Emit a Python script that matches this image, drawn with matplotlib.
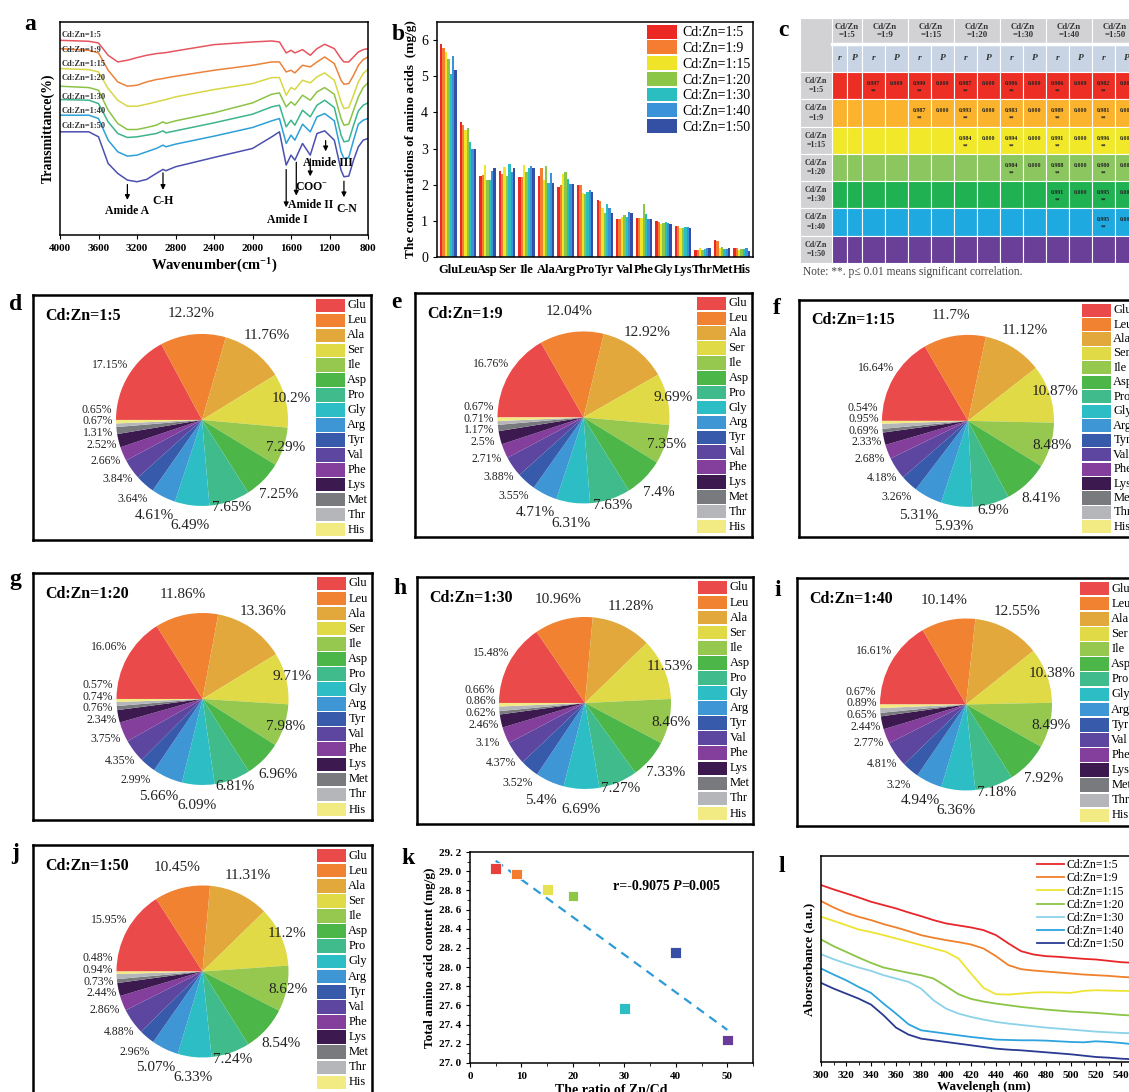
import matplotlib
matplotlib.use("Agg")
import matplotlib.pyplot as plt
import numpy as np
from matplotlib.patches import Rectangle

plt.rcParams['font.family'] = 'Liberation Serif'
plt.rcParams['mathtext.fontset'] = 'custom'
plt.rcParams['mathtext.rm'] = 'Liberation Serif'
plt.rcParams['mathtext.bf'] = 'Liberation Serif:bold'
plt.rcParams['mathtext.it'] = 'Liberation Serif:italic'

# ---------------- data ----------------
RATIOS = ['1:5', '1:9', '1:15', '1:20', '1:30', '1:40', '1:50']

# a: FTIR spectra (relative transmittance, a.u.)
FTIR_WN = [4000, 3700, 3600, 3500, 3400, 3300, 3200, 3100, 3000, 2930, 2900, 2800, 2400, 2000,
           1800, 1720, 1650, 1600, 1560, 1480, 1400, 1330, 1250, 1150, 1080, 1050, 1000, 950, 900, 850, 800]
ftir_1_5 = [580, 577, 572, 535, 515, 520, 528, 535, 540, 542, 543, 548, 567, 575, 578, 575, 542, 550, 542, 552,
            535, 555, 568, 555, 525, 515, 515, 530, 545, 552, 555]
ftir_1_9 = [555, 550, 542, 490, 455, 442, 445, 455, 462, 465, 467, 472, 490, 505, 515, 515, 485, 490, 482, 505,
            500, 515, 530, 510, 460, 448, 450, 475, 505, 522, 530]
ftir_1_15 = [495, 492, 485, 435, 400, 382, 382, 388, 395, 400, 402, 410, 432, 450, 468, 468, 415, 438, 432, 460,
             452, 470, 482, 460, 395, 375, 378, 415, 455, 480, 493]
ftir_1_20 = [442, 438, 430, 370, 330, 312, 312, 318, 325, 335, 330, 338, 362, 392, 418, 422, 380, 395, 385, 415,
             400, 425, 438, 418, 345, 325, 328, 370, 410, 438, 452]
ftir_1_30 = [402, 400, 390, 335, 300, 288, 290, 295, 300, 308, 302, 308, 332, 358, 380, 385, 320, 340, 325, 370,
             350, 385, 400, 378, 295, 275, 278, 325, 368, 385, 392]
ftir_1_40 = [355, 355, 345, 280, 245, 232, 235, 245, 255, 265, 260, 268, 292, 318, 338, 345, 270, 295, 280, 328,
             305, 350, 360, 338, 245, 225, 228, 280, 328, 340, 345]
ftir_1_50 = [305, 305, 290, 210, 180, 160, 155, 162, 180, 192, 188, 200, 228, 255, 290, 305, 205, 235, 220, 270,
             235, 300, 308, 280, 190, 170, 172, 220, 260, 280, 285]
FTIR = [ftir_1_5, ftir_1_9, ftir_1_15, ftir_1_20, ftir_1_30, ftir_1_40, ftir_1_50]

# b: amino acid concentrations (mg/g)
BAR_AA = ['Glu', 'Leu', 'Asp', 'Ser', 'Ile', 'Ala', 'Arg', 'Pro', 'Tyr', 'Val', 'Phe', 'Gly', 'Lys', 'Thr', 'Met', 'His']
conc_1_5 = [5.90, 3.73, 2.23, 2.39, 2.21, 2.24, 1.94, 2.00, 1.59, 1.04, 1.07, 1.00, 0.87, 0.18, 0.48, 0.24]
conc_1_9 = [5.78, 3.65, 2.26, 2.30, 2.21, 2.47, 1.98, 2.00, 1.55, 1.04, 1.08, 0.98, 0.86, 0.19, 0.44, 0.24]
conc_1_15 = [5.68, 3.52, 2.55, 2.49, 2.55, 2.12, 2.30, 1.77, 1.36, 1.12, 1.07, 0.92, 0.80, 0.25, 0.25, 0.19]
conc_1_20 = [5.47, 3.57, 2.12, 2.24, 2.35, 2.51, 2.36, 1.73, 1.22, 1.15, 1.47, 0.95, 0.80, 0.19, 0.27, 0.21]
conc_1_30 = [5.07, 3.17, 2.13, 2.58, 2.45, 2.04, 2.15, 1.81, 1.47, 1.10, 1.18, 0.97, 0.82, 0.22, 0.22, 0.22]
conc_1_40 = [5.57, 2.99, 2.37, 2.36, 2.51, 2.33, 2.03, 1.84, 1.36, 1.24, 1.06, 0.95, 0.83, 0.24, 0.23, 0.24]
conc_1_50 = [5.17, 2.99, 2.47, 2.47, 2.47, 2.04, 2.01, 1.79, 1.22, 1.22, 1.06, 0.92, 0.81, 0.24, 0.24, 0.17]
CONC = [conc_1_5, conc_1_9, conc_1_15, conc_1_20, conc_1_30, conc_1_40, conc_1_50]

# c: correlation table (upper triangle)
corr_r = [[0.997, 0.990, 0.987, 0.986, 0.986, 0.982],
          [0.987, 0.993, 0.983, 0.989, 0.981],
          [0.984, 0.994, 0.991, 0.996],
          [0.984, 0.988, 0.980],
          [0.991, 0.995],
          [0.995],
          []]
corr_p = [[0.000] * len(row) for row in corr_r]

# d-j: amino acid composition (%)
PIE_AA = ['Glu', 'Leu', 'Ala', 'Ser', 'Ile', 'Asp', 'Pro', 'Gly', 'Arg', 'Tyr', 'Val', 'Phe', 'Lys', 'Met', 'Thr', 'His']
pct_1_5 = [17.15, 12.32, 11.76, 10.2, 7.29, 7.25, 7.65, 6.49, 4.61, 3.64, 3.84, 2.66, 2.52, 1.31, 0.67, 0.65]
pct_1_9 = [16.76, 12.04, 12.92, 9.69, 7.35, 7.4, 7.63, 6.31, 4.71, 3.55, 3.88, 2.71, 2.5, 1.17, 0.71, 0.67]
pct_1_15 = [16.64, 11.7, 11.12, 10.87, 8.48, 8.41, 6.9, 5.93, 5.31, 3.26, 4.18, 2.68, 2.33, 0.69, 0.95, 0.54]
pct_1_20 = [16.06, 11.86, 13.36, 9.71, 7.98, 6.96, 6.81, 6.09, 5.66, 2.99, 4.35, 3.75, 2.34, 0.76, 0.74, 0.57]
pct_1_30 = [15.48, 10.96, 11.28, 11.53, 8.46, 7.33, 7.27, 6.69, 5.4, 3.52, 4.37, 3.1, 2.46, 0.62, 0.86, 0.66]
pct_1_40 = [16.61, 10.14, 12.55, 10.38, 8.49, 7.92, 7.18, 6.36, 4.94, 3.2, 4.81, 2.77, 2.44, 0.65, 0.89, 0.67]
pct_1_50 = [15.95, 10.45, 11.31, 11.2, 8.62, 8.54, 7.24, 6.33, 5.07, 2.96, 4.88, 2.86, 2.44, 0.73, 0.94, 0.48]
PCT = [pct_1_5, pct_1_9, pct_1_15, pct_1_20, pct_1_30, pct_1_40, pct_1_50]

# k: total amino acid content
ZN_CD = [5, 9, 15, 20, 30, 40, 50]
TOTAL_AA = [29.03, 28.97, 28.81, 28.74, 27.57, 28.15, 27.24]

# l: UV-vis absorbance (a.u.)
UV_WL = [300, 310, 320, 330, 340, 350, 360, 370, 380, 390, 400, 410, 420, 430, 440, 450, 460, 470,
         480, 490, 500, 510, 520, 530, 540, 550]
uv_1_5 = [565, 552, 540, 528, 515, 505, 495, 483, 472, 460, 450, 444, 438, 430, 415, 390, 367, 357,
          352, 350, 347, 344, 342, 338, 334, 332]
uv_1_9 = [517, 498, 482, 470, 460, 448, 438, 427, 415, 407, 400, 394, 387, 375, 352, 325, 313, 309,
          306, 303, 300, 297, 295, 293, 290, 288]
uv_1_15 = [470, 458, 445, 432, 424, 415, 405, 395, 385, 375, 365, 345, 300, 257, 238, 237, 240, 243,
           244, 243, 242, 248, 250, 249, 248, 248]
uv_1_20 = [402, 382, 365, 348, 332, 318, 310, 302, 295, 285, 262, 238, 224, 216, 210, 205, 200, 196,
           192, 189, 186, 184, 182, 179, 176, 174]
uv_1_30 = [358, 343, 330, 318, 308, 295, 285, 275, 255, 220, 195, 180, 170, 162, 155, 150, 146, 142,
           138, 135, 132, 129, 126, 124, 122, 121]
uv_1_40 = [315, 297, 280, 260, 242, 210, 180, 148, 130, 125, 120, 115, 110, 106, 102, 101, 100, 100,
           99, 97, 95, 94, 97, 95, 92, 88]
uv_1_50 = [272, 255, 240, 225, 207, 175, 138, 117, 105, 100, 95, 90, 85, 80, 75, 72, 70, 67,
           64, 61, 58, 54, 50, 48, 45, 43]
UV = [uv_1_5, uv_1_9, uv_1_15, uv_1_20, uv_1_30, uv_1_40, uv_1_50]

# ---------------- styles ----------------
FTIR_COLORS = ['#E6555F', '#EB823C', '#D7D746', '#8CC346', '#3CB48C', '#2DA0D7', '#4B50AF']
FTIR_LABEL_Y = [595, 552, 508, 467, 410, 367, 322]
BAR_COLORS = ['#EC2824', '#F57D32', '#F0E428', '#8CC646', '#2ABEC0', '#3A92D8', '#3450A4']
ROW_COLORS = ['#EC2E24', '#FBB22C', '#F0E828', '#8CC65F', '#20B252', '#1EAAE1', '#6A3F98']
PIE_COLORS = ['#EA4A4A', '#F08232', '#E2A83C', '#E0DA46', '#96C850', '#4CB648', '#40BC8C', '#2CBEC4',
              '#3E96D4', '#385AAA', '#5C46A0', '#843E9C', '#3C1A50', '#787A7E', '#B4B6BA', '#F2EA82']
LABEL_R = [1.24, 1.24, 1.24, 1.07, 1.02, 1.24, 1.08, 1.24, 1.24, 1.22, 1.2, 1.22, 1.2, 1.22, 1.22, 1.22]
K_COLORS = ['#E8413C', '#F27D2D', '#E6E150', '#8CC846', '#2DBEC4', '#3750A5', '#693C9B']
UV_COLORS = ['#E8262A', '#F0802C', '#EEE434', '#8CC446', '#8CD2E8', '#2EA4DE', '#2A3A92']

FIG_W, FIG_H = 1129, 1092
fig = plt.figure(figsize=(FIG_W / 100, FIG_H / 100), dpi=100)


def px_axes(x0, y0, x1, y1):
    return fig.add_axes([x0 / FIG_W, 1 - y1 / FIG_H, (x1 - x0) / FIG_W, (y1 - y0) / FIG_H])


def panel_letter(x, y, s):
    fig.text(x / FIG_W, 1 - y / FIG_H, s, ha='center', va='center', fontsize=17, fontweight='bold')


# ---------------- a: FTIR ----------------
ax = px_axes(60, 22, 368, 235)
for vals, c, r, ly in zip(FTIR, FTIR_COLORS, RATIOS, FTIR_LABEL_Y):
    ax.plot(FTIR_WN, vals, color=c, lw=1.1)
    ax.text(3985, ly, 'Cd:Zn=' + r, fontsize=6, fontweight='bold', color='#333333', va='center')
ax.set_xlim(4000, 800)
ax.set_ylim(-5, 635)
ax.set_yticks([])
ax.set_xticks(range(4000, 799, -400))
for t in ax.get_xticklabels():
    t.set_fontweight('bold')
ax.tick_params(axis='x', labelsize=8, length=3)
ax.set_xlabel(r'Wavenumber(cm$^{\mathbf{-1}}$)', fontsize=10.5, fontweight='bold', labelpad=3)
ax.set_ylabel('Transmittance(%)', fontsize=10, fontweight='bold', labelpad=4)
for s in ax.spines.values():
    s.set_linewidth(1.1)

peaks = [('Amide A', 3300, 155, 92, 3300, 66),
         ('C-H', 2930, 190, 122, 2930, 96),
         ('Amide I', 1650, 200, 70, 1640, 40),
         ('Amide II', 1545, 222, 105, 1400, 84),
         ('COO$^{-}$', 1400, 232, 163, 1385, 138),
         ('Amide III', 1240, 287, 238, 1212, 210),
         ('C-N', 1050, 165, 100, 1025, 72)]
for lab, xw, y0, y1, xt, yt in peaks:
    ax.annotate('', xy=(xw, y1), xytext=(xw, y0),
                arrowprops=dict(arrowstyle='-|>', color='black', lw=0.9, mutation_scale=7))
    ax.text(xt, yt, lab, ha='center', va='center', fontsize=8.5, fontweight='bold')

panel_letter(30, 25, 'a')

# ---------------- b: bars ----------------
bx = px_axes(437, 22, 753, 257)
x = np.arange(len(BAR_AA))
w = 0.12
for k, (vals, c) in enumerate(zip(CONC, BAR_COLORS)):
    bx.bar(x + (k - 3) * w, vals, w, color=c, linewidth=0, label='Cd:Zn=' + RATIOS[k])
bx.set_xlim(-0.58, 15.58)
bx.set_ylim(0, 6.5)
bx.set_yticks(range(0, 7))
bx.set_xticks(x)
bx.set_xticklabels(BAR_AA, fontweight='bold', fontsize=9)
bx.tick_params(axis='x', length=0, pad=5)
bx.tick_params(axis='y', labelsize=10, length=3)
bx.set_ylabel('The concentrations of amino acids  (mg/g)', fontsize=9.5, fontweight='bold', labelpad=3)
for s in bx.spines.values():
    s.set_linewidth(1.1)
bx.legend(loc='upper right', bbox_to_anchor=(1.0, 1.0), frameon=False, fontsize=10,
          handlelength=2.15, handleheight=1.15, labelspacing=0.08, handletextpad=0.35,
          borderaxespad=0.1, borderpad=0.1)
panel_letter(398, 35, 'b')

# ---------------- c: table ----------------
tx = px_axes(800, 18, 1138, 263)
col_w = [32, 15, 15] + [23] * 12
row_h = [26, 28] + [27.3] * 7
xe = np.concatenate([[0], np.cumsum(col_w)])
ye = np.concatenate([[0], np.cumsum(row_h)])
tx.set_xlim(0, xe[-1])
tx.set_ylim(ye[-1], 0)
tx.axis('off')


def cell(c0, c1, r0, r1, color):
    tx.add_patch(Rectangle((xe[c0], ye[r0]), xe[c1] - xe[c0], ye[r1] - ye[r0],
                           facecolor=color, edgecolor='white', lw=0.8))


cell(0, 1, 0, 2, '#D2D2D4')
for j, r in enumerate(RATIOS):
    c0, c1 = 1 + 2 * j, 3 + 2 * j
    cell(c0, c1, 0, 1, '#D2D2D4')
    tx.text((xe[c0] + xe[c1]) / 2, (ye[0] + ye[1]) / 2, 'Cd/Zn\n=' + r, ha='center', va='center',
            fontsize=6.3, fontweight='bold', color='#333333', linespacing=1.15)
    for m, sym in enumerate(['r', 'P']):
        cc = c0 + m
        cell(cc, cc + 1, 1, 2, '#C8D4E4')
        tx.text((xe[cc] + xe[cc + 1]) / 2, (ye[1] + ye[2]) / 2, sym, ha='center', va='center',
                fontsize=6.8, fontweight='bold', fontstyle='italic', color='#333333')
tx.plot([xe[1], xe[-1]], [ye[1], ye[1]], color='white', lw=2.5)
for i, r in enumerate(RATIOS):
    r0, r1 = 2 + i, 3 + i
    cell(0, 1, r0, r1, '#D2D2D4')
    tx.text((xe[0] + xe[1]) / 2, (ye[r0] + ye[r1]) / 2, 'Cd/Zn\n=' + r, ha='center', va='center',
            fontsize=5.8, fontweight='bold', color='#333333', linespacing=1.2)
    for cc in range(1, len(col_w)):
        cell(cc, cc + 1, r0, r1, ROW_COLORS[i])
    for n, (rv, pv) in enumerate(zip(corr_r[i], corr_p[i])):
        j = i + 1 + n
        cr, cp = 1 + 2 * j, 2 + 2 * j
        ymid = ye[r0] + 0.42 * (ye[r1] - ye[r0])
        tx.text((xe[cr] + xe[cr + 1]) / 2, ymid, f'{rv:.3f}', ha='center', va='center',
                fontsize=4.2, fontweight='bold', color='#222222')
        tx.text((xe[cr] + xe[cr + 1]) / 2, ye[r0] + 0.7 * (ye[r1] - ye[r0]), '**', ha='center',
                va='center', fontsize=4, fontweight='bold', color='#222222')
        tx.text((xe[cp] + xe[cp + 1]) / 2, ymid, f'{pv:.3f}', ha='center', va='center',
                fontsize=4.2, fontweight='bold', color='#222222')
fig.text(803 / FIG_W, 1 - 272 / FIG_H, 'Note: **. p\u2264 0.01 means significant correlation.',
         fontsize=8.3, color='#444444', va='center')
panel_letter(783, 30, 'c')


# ---------------- d-j: pies ----------------
def draw_pie(box_px, ratio, pct):
    x0, y0, x1, y1 = box_px
    box = px_axes(x0, y0, x1, y1)
    box.set_xticks([])
    box.set_yticks([])
    for s in box.spines.values():
        s.set_linewidth(1.8)
    box.text(0.035, 0.915, 'Cd:Zn=' + ratio, transform=box.transAxes, fontsize=11.5,
             fontweight='bold', va='center')
    n = len(PIE_AA)
    row = (1 - 0.024) / n
    for i, (name, c) in enumerate(zip(PIE_AA, PIE_COLORS)):
        top = 1 - 0.012 - i * row
        box.add_patch(Rectangle((0.837, top - row + 0.003), 0.086, row - 0.006,
                                transform=box.transAxes, facecolor=c, lw=0))
        box.text(0.93, top - row / 2, name, transform=box.transAxes, fontsize=9, va='center')

    R = 86
    cx = x0 + 0.5 * (x1 - x0)
    cy = y0 + 0.51 * (y1 - y0)
    pax = px_axes(cx - R, cy - R, cx + R, cy + R)
    wedges, _ = pax.pie(pct, colors=PIE_COLORS, startangle=180, counterclock=False,
                        radius=1, wedgeprops=dict(linewidth=0))
    pax.set_xlim(-1, 1)
    pax.set_ylim(-1, 1)
    pax.set_aspect('equal')
    pax.axis('off')

    xs, ys = [], []
    for wdg, lr in zip(wedges, LABEL_R):
        ang = np.deg2rad((wdg.theta1 + wdg.theta2) / 2)
        xs.append(lr * np.cos(ang))
        ys.append(lr * np.sin(ang))
    for i in range(12, n):
        ys[i] = max(ys[i], ys[i - 1] + 0.135)
    for i, v in enumerate(pct):
        big = 1 <= i <= 8
        pax.text(xs[i], ys[i], f'{v:g}%', ha='center', va='center',
                 fontsize=11 if big else 8.5, color='#222222', clip_on=False)


PIE_BOXES = [(33, 295, 371, 540), (415, 293, 752, 537), (799, 300, 1137, 537),
             (33, 573, 372, 820), (417, 577, 753, 824), (797, 578, 1135, 826),
             (33, 845, 372, 1093)]
PIE_LETTERS = [(16, 305, 'd'), (396, 303, 'e'), (777, 308, 'f'),
               (15, 580, 'g'), (400, 588, 'h'), (778, 590, 'i'), (15, 853, 'j')]
for bpx, r, p, (lx_, ly_, lt) in zip(PIE_BOXES, RATIOS, PCT, PIE_LETTERS):
    draw_pie(bpx, r, p)
    panel_letter(lx_, ly_, lt)

# ---------------- k: scatter ----------------
kx = px_axes(470, 852, 753, 1063)
kx.scatter(ZN_CD, TOTAL_AA, marker='s', s=60, c=K_COLORS, edgecolors='white', linewidths=0.6, zorder=3)
slope, icpt = np.polyfit(ZN_CD, TOTAL_AA, 1)
xs = np.array([min(ZN_CD), max(ZN_CD)])
kx.plot(xs, slope * xs + icpt, ls=(0, (4, 3)), color='#2E9AD6', lw=1.6)
kx.set_xlim(0, 55)
kx.set_ylim(27.0, 29.2)
yt = np.round(np.arange(27.0, 29.21, 0.2), 1)
kx.set_yticks(yt)
kx.set_yticklabels([f'{v:.1f}'.replace('.', '. ') for v in yt], fontweight='bold')
kx.set_yticks(np.arange(27.1, 29.2, 0.2), minor=True)
kx.set_xticks(range(0, 51, 10))
kx.set_xticks(range(5, 56, 10), minor=True)
kx.tick_params(labelsize=8, length=3)
kx.tick_params(which='minor', length=2)
for t in kx.get_xticklabels():
    t.set_fontweight('bold')
kx.set_xlabel('The ratio of Zn/Cd', fontsize=10, fontweight='bold', labelpad=2)
kx.set_ylabel('Total amino acid content (mg/g)', fontsize=9.5, fontweight='bold', labelpad=2)
for s in kx.spines.values():
    s.set_linewidth(1.1)
t1 = kx.text(0.505, 0.835, 'r=-0.9075 ', transform=kx.transAxes, fontsize=10, fontweight='bold',
             va='center')
t2 = kx.annotate('P', xy=(1, 0), xycoords=t1, va='bottom', fontsize=10, fontweight='bold',
                 fontstyle='italic')
kx.annotate('=0.005', xy=(1, 0), xycoords=t2, va='bottom', fontsize=10, fontweight='bold')
panel_letter(408, 858, 'k')

# ---------------- l: UV-vis ----------------
lx = px_axes(821, 856, 1146, 1062)
for vals, c, r in zip(UV, UV_COLORS, RATIOS):
    lx.plot(UV_WL, vals, color=c, lw=1.3, label='Cd:Zn=' + r)
lx.set_xlim(300, 560)
lx.set_ylim(35, 652)
lx.set_yticks([])
lx.set_xticks(range(300, 561, 20))
lx.set_xticks(range(310, 561, 20), minor=True)
lx.tick_params(labelsize=8, length=3)
lx.tick_params(which='minor', length=2)
for t in lx.get_xticklabels():
    t.set_fontweight('bold')
lx.set_xlabel('Wavelengh (nm)', fontsize=9.5, fontweight='bold', labelpad=1)
lx.set_ylabel('Aborsorbance (a.u.)', fontsize=9.5, fontweight='bold', labelpad=4)
for s in lx.spines.values():
    s.set_linewidth(1.1)
lx.legend(loc='upper left', bbox_to_anchor=(0.66, 0.99), frameon=False, fontsize=8.5,
          handlelength=2.3, labelspacing=0.1, handletextpad=0.2, borderaxespad=0, borderpad=0.1)
panel_letter(782, 867, 'l')

fig.savefig('out.png', dpi=100)
